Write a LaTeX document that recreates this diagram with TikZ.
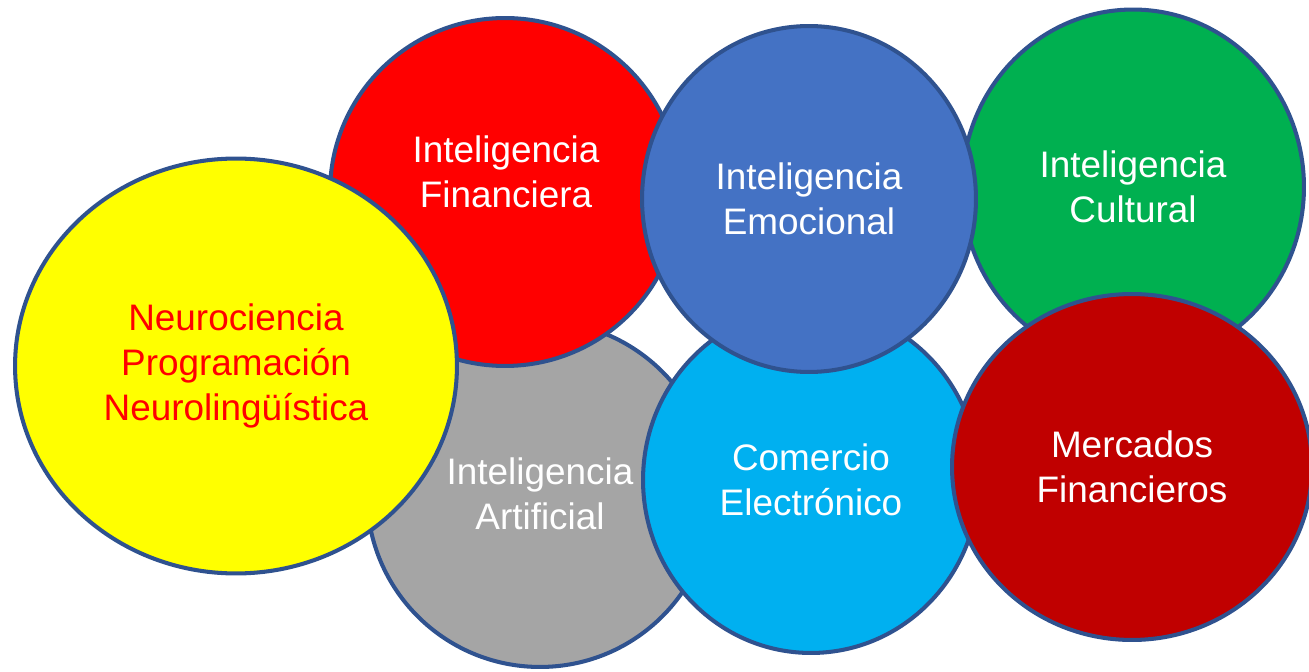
\documentclass[tikz,border=0pt]{standalone}
\usepackage{fontspec}
\setmainfont{Liberation Sans}
\usetikzlibrary{shapes.geometric}
\definecolor{myedge}{HTML}{2F528F}
\definecolor{myyellow}{HTML}{FFFF00}
\definecolor{myred}{HTML}{FF0000}
\definecolor{mygray}{HTML}{A5A5A5}
\definecolor{myblue}{HTML}{4472C4}
\definecolor{mycyan}{HTML}{00B0F0}
\definecolor{mygreen}{HTML}{00B050}
\definecolor{mydarkred}{HTML}{C00000}
\tikzset{
    bubble/.style={ellipse, draw=myedge, line width=2.3pt, inner sep=0pt,
        text=white, align=center, font=\fontsize{21}{25.6}\selectfont},
    txt/.style={text=white, align=center, font=\fontsize{21}{25.6}\selectfont},
    dims/.style 2 args={minimum width=#1, minimum height=#2}
}
\begin{document}
\begin{tikzpicture}[x=0.02cm, y=-0.02cm]
\useasboundingbox (0,0) rectangle (1309,672);

\node[bubble,fill=mygray,dims={6.92cm}{6.92cm}] at (540,494) (art) {Inteligencia\\Artificial};

\node[bubble,fill=myred,dims={7.0cm}{6.96cm}] at (505,192) (fin) {};
\node[txt] at (506,172) (fintxt) {Inteligencia\\Financiera};

\node[bubble,fill=myyellow,text=myred,dims={8.84cm}{8.3cm}] at (236,366) (neuro) {Neurociencia\\Programación\\Neurolingüística};

\node[bubble,fill=mygreen,dims={6.84cm}{7.1cm}] at (1133,187) (cult) {Inteligencia\\Cultural};

\node[bubble,fill=mycyan,dims={6.72cm}{6.92cm}] at (811,480) (com) {Comercio\\Electrónico};

\node[bubble,fill=myblue,dims={6.68cm}{6.92cm}] at (809,199) (emo) {Inteligencia\\Emocional};

\node[bubble,fill=mydarkred,dims={7.2cm}{6.92cm}] at (1132,467) (merc) {Mercados\\Financieros};
\end{tikzpicture}
\end{document}
